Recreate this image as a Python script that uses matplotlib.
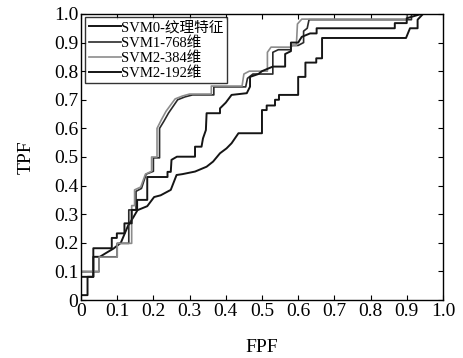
import matplotlib
matplotlib.use('Agg')
import matplotlib.pyplot as plt

# ROC curves (FPF, TPF vertices)
svm0_x = [0, 0, 0.034, 0.034, 0.052, 0.07, 0.09, 0.11, 0.13, 0.145, 0.156, 0.183, 0.202, 0.22,
          0.248, 0.264, 0.28, 0.315, 0.347, 0.365, 0.384, 0.402, 0.416, 0.435, 0.5, 0.5, 0.513,
          0.513, 0.536, 0.536, 0.547, 0.547, 0.6, 0.6, 0.62, 0.62, 0.65, 0.65, 0.666, 0.666,
          0.898, 0.909, 0.93, 0.93, 0.945, 1.0]
svm0_y = [0, 0.081, 0.081, 0.151, 0.151, 0.165, 0.18, 0.2, 0.26, 0.29, 0.314, 0.328, 0.36, 0.366,
          0.385, 0.437, 0.44, 0.449, 0.466, 0.484, 0.513, 0.53, 0.548, 0.583, 0.583, 0.664, 0.664,
          0.68, 0.68, 0.70, 0.70, 0.717, 0.717, 0.78, 0.78, 0.83, 0.83, 0.845, 0.845, 0.916,
          0.916, 0.95, 0.95, 0.98, 1.0, 1.0]

svm1_x = [0, 0, 0.05, 0.05, 0.1, 0.1, 0.132, 0.132, 0.152, 0.152, 0.167, 0.18, 0.2, 0.2, 0.217,
          0.217, 0.229, 0.242, 0.267, 0.287, 0.308, 0.367, 0.367, 0.455, 0.46, 0.475, 0.53, 0.53,
          0.545, 0.58, 0.58, 0.6, 0.615, 0.615, 0.625, 0.63, 0.913, 0.913, 1.0]
svm1_y = [0, 0.099, 0.099, 0.151, 0.151, 0.198, 0.198, 0.315, 0.315, 0.38, 0.39, 0.44, 0.45, 0.497,
          0.497, 0.6, 0.625, 0.654, 0.70, 0.71, 0.717, 0.717, 0.745, 0.745, 0.775, 0.79, 0.79, 0.866,
          0.875, 0.875, 0.89, 0.89, 0.9, 0.94, 0.95, 0.98, 0.98, 1.0, 1.0]

svm2_384_x = [0, 0, 0.05, 0.05, 0.1, 0.1, 0.14, 0.14, 0.148, 0.148, 0.165, 0.178, 0.195, 0.195,
              0.21, 0.21, 0.222, 0.235, 0.26, 0.28, 0.30, 0.36, 0.36, 0.445, 0.45, 0.465, 0.515,
              0.515, 0.525, 0.58, 0.585, 0.595, 0.598, 0.61, 0.9, 0.9, 1.0]
svm2_384_y = [0, 0.1, 0.1, 0.15, 0.15, 0.198, 0.198, 0.33, 0.33, 0.385, 0.395, 0.44, 0.45, 0.5,
              0.5, 0.6, 0.63, 0.66, 0.703, 0.713, 0.72, 0.72, 0.748, 0.748, 0.79, 0.80, 0.80,
              0.866, 0.884, 0.884, 0.89, 0.89, 0.965, 0.982, 0.982, 1.0, 1.0]

svm2_192_x = [0, 0, 0.018, 0.018, 0.034, 0.034, 0.085, 0.085, 0.099, 0.099, 0.12, 0.12, 0.14,
              0.14, 0.155, 0.155, 0.183, 0.183, 0.239, 0.239, 0.248, 0.25, 0.265, 0.315, 0.315,
              0.333, 0.337, 0.345, 0.347, 0.384, 0.384, 0.40, 0.416, 0.458, 0.467, 0.467, 0.49,
              0.5, 0.53, 0.564, 0.564, 0.58, 0.58, 0.6, 0.61, 0.633, 0.651, 0.651, 0.867, 0.867,
              0.9, 0.9, 0.94, 1.0]
svm2_192_y = [0, 0.017, 0.017, 0.081, 0.081, 0.181, 0.181, 0.217, 0.217, 0.233, 0.233, 0.268,
              0.268, 0.315, 0.315, 0.35, 0.35, 0.43, 0.43, 0.448, 0.448, 0.49, 0.501, 0.501, 0.536,
              0.536, 0.565, 0.594, 0.653, 0.653, 0.67, 0.69, 0.717, 0.723, 0.746, 0.78, 0.79, 0.8,
              0.816, 0.816, 0.86, 0.87, 0.9, 0.9, 0.92, 0.932, 0.932, 0.95, 0.95, 0.968, 0.968,
              0.985, 1.0, 1.0]

tick_vals = [0, 0.1, 0.2, 0.3, 0.4, 0.5, 0.6, 0.7, 0.8, 0.9, 1.0]
tick_labels = ['0', '0.1', '0.2', '0.3', '0.4', '0.5', '0.6', '0.7', '0.8', '0.9', '1.0']

plt.rcParams['font.family'] = ['Liberation Serif', 'Noto Sans CJK SC']

fig = plt.figure(figsize=(4.64, 3.58), dpi=100)
ax = fig.add_axes([0.1746, 0.162, 0.78, 0.799])

ax.plot(svm0_x, svm0_y, color='#151515', lw=1.4, label='SVM0-纹理特征')
ax.plot(svm1_x, svm1_y, color='#2a2a2a', lw=1.2, label='SVM1-768维')
ax.plot(svm2_384_x, svm2_384_y, color='#8c8c8c', lw=1.2, label='SVM2-384维')
ax.plot(svm2_192_x, svm2_192_y, color='#151515', lw=1.4, label='SVM2-192维')

ax.set_xlim(0, 1)
ax.set_ylim(0, 1)
ax.set_xticks(tick_vals)
ax.set_xticklabels(tick_labels)
ax.set_yticks(tick_vals)
ax.set_yticklabels(tick_labels)
ax.tick_params(direction='in', length=3.5, width=0.8, top=True, right=True,
               labelsize=14, pad=2)
for s in ax.spines.values():
    s.set_linewidth(1.0)
ax.set_xlabel('FPF', fontsize=14, labelpad=14)
ax.set_ylabel('TPF', fontsize=14, labelpad=14)

leg = ax.legend(loc='upper left', bbox_to_anchor=(0.012, 0.988), fontsize=10.5,
                frameon=True, fancybox=False, handlelength=2.2, handletextpad=0.0,
                borderpad=0.25, labelspacing=0.1, borderaxespad=0.0)
leg.get_frame().set_edgecolor('black')
leg.get_frame().set_linewidth(1.0)

fig.savefig('out.png', dpi=100)
